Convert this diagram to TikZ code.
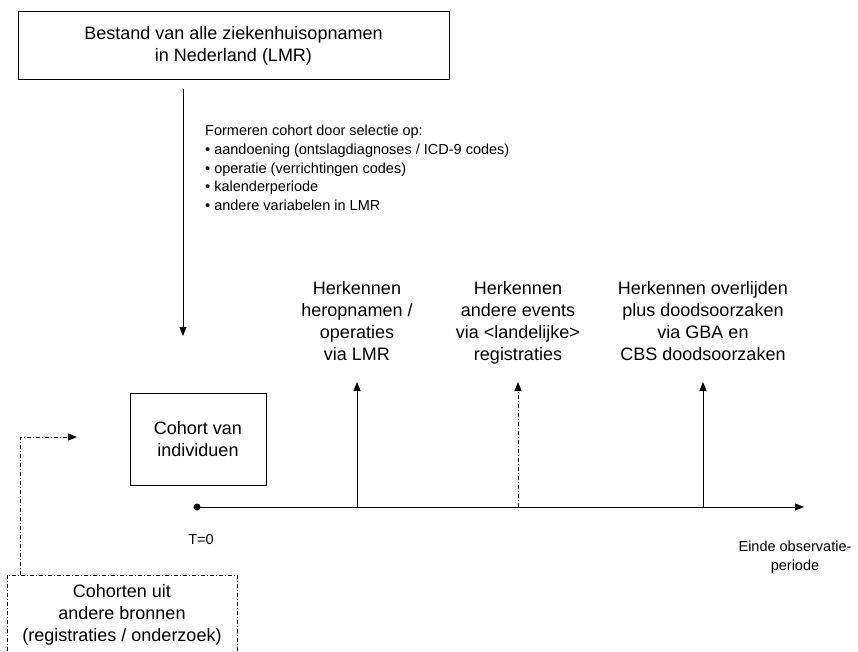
\documentclass[tikz,border=0pt]{standalone}
\usepackage{fontspec}
\setmainfont{Liberation Sans}
\usetikzlibrary{arrows.meta}

\newcommand{\grotetekst}{\fontsize{18}{22}\selectfont}
\newcommand{\kleinetekst}{\fontsize{14.5}{18.7}\selectfont}
\tikzset{
  kader/.style={draw, line width=1pt, inner sep=0pt, align=center, font=\grotetekst},
  label/.style={anchor=north, inner sep=0pt, align=center, font=\grotetekst},
  pijl/.style={-{Triangle[length=9pt,width=7pt]}, line width=1pt},
  streeppunt/.style={dash pattern=on 4pt off 2pt on 1pt off 2pt},
}

\begin{document}
\begin{tikzpicture}[x=1pt, y=-1pt]
    \useasboundingbox (0,0) rectangle (858,652);
    \node (lmr) [kader, minimum width=431pt, minimum height=68pt] at (233.5,46)
      {Bestand van alle ziekenhuisopnamen\\in Nederland (LMR)};
    \node (selectie) [anchor=north west, inner sep=0pt, align=left, font=\kleinetekst] at (205,125)
      {Formeren cohort door selectie op:\\
       \textbullet\ aandoening (ontslagdiagnoses / ICD-9 codes)\\
       \textbullet\ operatie (verrichtingen codes)\\
       \textbullet\ kalenderperiode\\
       \textbullet\ andere variabelen in LMR};
    \coordinate (instroom) at (183,336);
    \draw [pijl] (lmr.south -| instroom) ++(0,9) -- (instroom);

    \node (cohort) [kader, minimum width=136pt, minimum height=92pt] at (198,439)
      {Cohort van\\individuen};

    % tijdlijn
    \node (t0) [circle, fill, inner sep=0pt, minimum size=7pt] at (197,507) {};
    \coordinate (einde) at (804,507);
    \draw [pijl] (t0.center) -- (einde);
    \node (t0tekst) [font=\kleinetekst] at (201,540) {T=0};
    \node (eindetekst) [font=\kleinetekst, align=center] at (795,557)
      {Einde observatie-\\periode};

    % events langs de tijdlijn
    \coordinate (e1) at (357,507);
    \coordinate (p1) at (357,382);
    \draw [pijl] (e1) -- (p1);
    \node (her1) [label] at (357,281) {Herkennen\\heropnamen /\\operaties\\via LMR};
    \coordinate (e2) at (518,507);
    \coordinate (p2) at (518,382);
    \draw [pijl, streeppunt] (e2) -- (p2);
    \node (her2) [label] at (518,281) {Herkennen\\andere events\\via <landelijke>\\registraties};
    \coordinate (e3) at (703,507);
    \coordinate (p3) at (703,382);
    \draw [pijl] (e3) -- (p3);
    \node (her3) [label] at (703,281) {Herkennen overlijden\\plus doodsoorzaken\\via GBA en\\CBS doodsoorzaken};

    % andere bronnen
    \node (bron) [kader, streeppunt, minimum width=230pt, minimum height=80pt] at (122,615)
      {Cohorten uit\\andere bronnen\\(registraties / onderzoek)};
    \coordinate (naar) at (77,437);
    \draw [pijl, streeppunt] ([xshift=14pt]bron.north west) |- (naar);
\end{tikzpicture}
\end{document}
